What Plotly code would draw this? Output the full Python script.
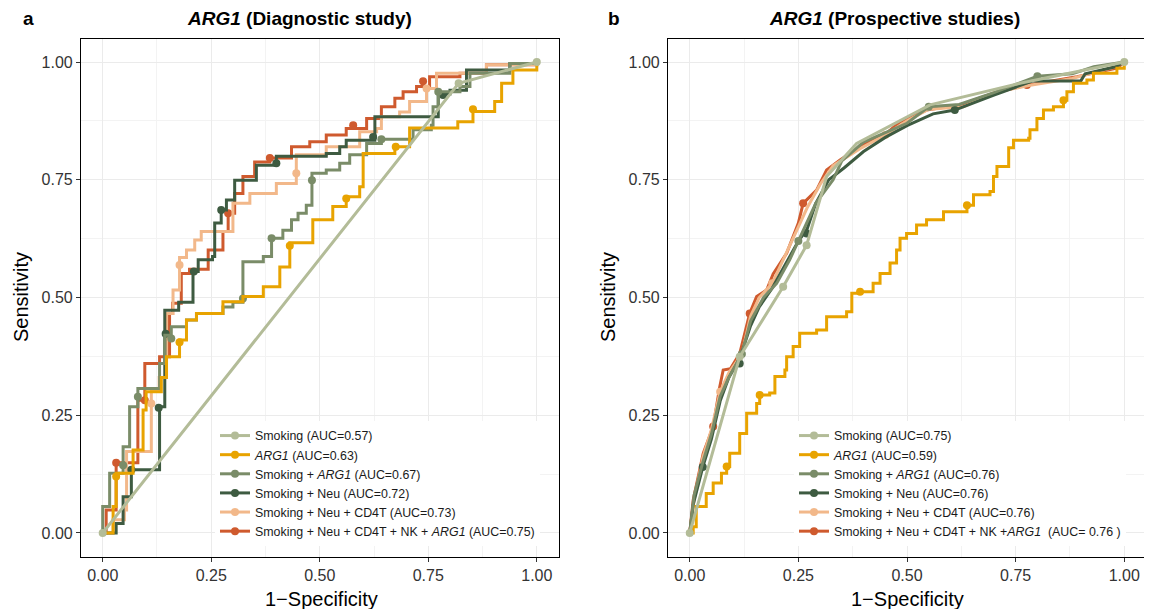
import plotly.graph_objects as go

# ---------------- Data ----------------
legend_a = ["Smoking (AUC=0.57)", "<i>ARG1</i> (AUC=0.63)", "Smoking + <i>ARG1</i> (AUC=0.67)",
            "Smoking + Neu (AUC=0.72)", "Smoking + Neu + CD4T (AUC=0.73)",
            "Smoking + Neu + CD4T + NK + <i>ARG1</i> (AUC=0.75)"]
legend_b = ["Smoking (AUC=0.75)", "<i>ARG1</i> (AUC=0.59)", "Smoking + <i>ARG1</i> (AUC=0.76)",
            "Smoking + Neu (AUC=0.76)", "Smoking + Neu + CD4T (AUC=0.76)",
            "Smoking + Neu + CD4T + NK +<i>ARG1</i>  (AUC= 0.76 )"]
colors = ["#b3bc98", "#e8a300", "#7a8c68", "#3e5b41", "#f2b88a", "#cf5a2e"]

# Panel a: diagnostic study
a_smk_x = [0, 0.82, 1.0]
a_smk_y = [0, 0.955, 1.0]
a_smk_mx = [0, 0.82, 1.0]
a_smk_my = [0, 0.955, 1.0]

a_arg_x = [0, 0.024, 0.031, 0.07, 0.093, 0.10, 0.135, 0.147, 0.177, 0.193, 0.216, 0.277, 0.323, 0.37,
           0.408, 0.431, 0.484, 0.53, 0.561, 0.592, 0.60, 0.673, 0.707, 0.818, 0.853, 0.903, 0.919, 0.945, 1.0]
a_arg_y = [0, 0.056, 0.127, 0.176, 0.261, 0.30, 0.33, 0.374, 0.41, 0.452, 0.466, 0.491, 0.502, 0.523,
           0.565, 0.616, 0.665, 0.693, 0.714, 0.735, 0.806, 0.82, 0.86, 0.873, 0.895, 0.916, 0.955, 0.983, 1.0]
a_arg_mx = [0.031, 0.177, 0.431, 0.561, 0.675, 0.853]
a_arg_my = [0.12, 0.405, 0.61, 0.71, 0.82, 0.9]

a_sa_x = [0, 0, 0.016, 0.047, 0.062, 0.081, 0.131, 0.143, 0.158, 0.193, 0.216, 0.277, 0.30, 0.323, 0.37,
          0.389, 0.415, 0.435, 0.45, 0.469, 0.482, 0.515, 0.546, 0.569, 0.608, 0.642, 0.715, 0.757, 0.761,
          0.773, 0.823, 0.846, 0.938, 1.0]
a_sa_y = [0, 0.056, 0.127, 0.183, 0.268, 0.307, 0.36, 0.42, 0.438, 0.452, 0.466, 0.48, 0.49, 0.576, 0.587,
          0.626, 0.643, 0.665, 0.679, 0.696, 0.764, 0.771, 0.785, 0.803, 0.827, 0.836, 0.856, 0.866, 0.905,
          0.937, 0.948, 0.976, 0.997, 1.0]
a_sa_mx = [0.047, 0.081, 0.158, 0.323, 0.389, 0.482, 0.642, 0.773]
a_sa_my = [0.144, 0.289, 0.413, 0.498, 0.626, 0.749, 0.836, 0.937]

a_neu_x = [0, 0.031, 0.047, 0.066, 0.131, 0.143, 0.175, 0.208, 0.22, 0.253, 0.258, 0.273, 0.285, 0.304,
           0.354, 0.40, 0.515, 0.546, 0.561, 0.627, 0.773, 0.80, 0.838, 0.938, 1.0]
a_neu_y = [0, 0.02, 0.077, 0.134, 0.268, 0.473, 0.49, 0.555, 0.58, 0.587, 0.658, 0.686, 0.707, 0.749,
           0.781, 0.80, 0.806, 0.82, 0.834, 0.884, 0.932, 0.94, 0.983, 0.997, 1.0]
a_neu_mx = [0.066, 0.129, 0.145, 0.21, 0.273, 0.40, 0.623, 0.784]
a_neu_my = [0.134, 0.266, 0.423, 0.555, 0.686, 0.785, 0.841, 0.930]

a_cd4_x = [0, 0.024, 0.05, 0.055, 0.112, 0.13, 0.147, 0.162, 0.177, 0.193, 0.212, 0.227, 0.30, 0.339,
           0.40, 0.446, 0.515, 0.592, 0.631, 0.642, 0.684, 0.707, 0.746, 0.769, 0.884, 1.0]
a_cd4_y = [0, 0.028, 0.049, 0.173, 0.304, 0.33, 0.466, 0.516, 0.585, 0.601, 0.622, 0.64, 0.70, 0.721,
           0.742, 0.803, 0.82, 0.852, 0.859, 0.884, 0.894, 0.916, 0.944, 0.976, 0.994, 1.0]
a_cd4_mx = [0.112, 0.177, 0.446, 0.746]
a_cd4_my = [0.275, 0.569, 0.764, 0.944]

a_full_x = [0, 0.008, 0.031, 0.081, 0.097, 0.131, 0.154, 0.161, 0.181, 0.20, 0.243, 0.277, 0.289, 0.304,
            0.323, 0.35, 0.385, 0.435, 0.477, 0.515, 0.561, 0.608, 0.642, 0.673, 0.692, 0.723, 0.753,
            0.823, 0.884, 1.0]
a_full_y = [0, 0.049, 0.149, 0.282, 0.36, 0.374, 0.466, 0.488, 0.551, 0.56, 0.601, 0.64, 0.679, 0.721,
            0.757, 0.788, 0.796, 0.82, 0.831, 0.845, 0.859, 0.88, 0.905, 0.923, 0.937, 0.948, 0.969,
            0.976, 0.994, 1.0]
a_full_mx = [0.031, 0.097, 0.289, 0.385, 0.577, 0.738]
a_full_my = [0.149, 0.282, 0.679, 0.796, 0.866, 0.959]

# Panel b: prospective studies
b_smk_x = [0, 0.115, 0.215, 0.269, 0.315, 0.384, 0.553, 0.76, 1.0]
b_smk_y = [0, 0.374, 0.523, 0.611, 0.757, 0.827, 0.909, 0.955, 1.0]
b_smk_mx = [0, 0.115, 0.215, 0.269, 1.0]
b_smk_my = [0, 0.374, 0.523, 0.611, 1.0]

b_arg_x = [0, 0.008, 0.015, 0.038, 0.054, 0.073, 0.085, 0.092, 0.115, 0.131, 0.154, 0.161, 0.184, 0.196,
           0.219, 0.223, 0.238, 0.253, 0.292, 0.315, 0.361, 0.373, 0.392, 0.422, 0.438, 0.461, 0.476,
           0.484, 0.499, 0.522, 0.545, 0.584, 0.638, 0.653, 0.691, 0.699, 0.707, 0.734, 0.734, 0.745,
           0.78, 0.783, 0.799, 0.814, 0.837, 0.86, 0.868, 0.883, 0.914, 0.929, 0.983, 1.0]
b_arg_y = [0, 0.013, 0.056, 0.084, 0.106, 0.127, 0.141, 0.169, 0.211, 0.254, 0.275, 0.293, 0.297, 0.332,
           0.346, 0.374, 0.396, 0.424, 0.431, 0.459, 0.47, 0.509, 0.512, 0.53, 0.551, 0.573, 0.601,
           0.626, 0.636, 0.654, 0.665, 0.682, 0.696, 0.718, 0.725, 0.757, 0.778, 0.781, 0.818, 0.834,
           0.838, 0.856, 0.88, 0.898, 0.905, 0.919, 0.937, 0.955, 0.962, 0.976, 0.987, 1.0]
b_arg_mx = [0.085, 0.161, 0.392, 0.638, 0.86]
b_arg_my = [0.141, 0.293, 0.512, 0.696, 0.919]

b_sa_x = [0, 0.01, 0.03, 0.05, 0.07, 0.09, 0.12, 0.14, 0.17, 0.2, 0.23, 0.25, 0.27, 0.29, 0.33, 0.35,
          0.40, 0.50, 0.55, 0.62, 0.70, 0.77, 0.80, 0.88, 0.93, 1.0]
b_sa_y = [0, 0.08, 0.15, 0.21, 0.29, 0.33, 0.38, 0.45, 0.5, 0.53, 0.58, 0.62, 0.66, 0.70, 0.75, 0.79,
          0.83, 0.87, 0.905, 0.91, 0.935, 0.96, 0.97, 0.975, 0.99, 1.0]
b_sa_mx = [0.12, 0.25, 0.55, 0.80]
b_sa_my = [0.38, 0.62, 0.905, 0.97]

b_neu_x = [0, 0.008, 0.03, 0.05, 0.07, 0.09, 0.115, 0.14, 0.16, 0.19, 0.22, 0.25, 0.27, 0.29, 0.32,
           0.355, 0.40, 0.45, 0.50, 0.56, 0.61, 0.70, 0.79, 0.90, 0.91, 0.98, 1.0]
b_neu_y = [0, 0.06, 0.14, 0.2, 0.28, 0.33, 0.37, 0.44, 0.48, 0.52, 0.57, 0.62, 0.645, 0.70, 0.75,
           0.775, 0.81, 0.84, 0.865, 0.89, 0.898, 0.93, 0.96, 0.96, 0.975, 0.99, 1.0]
b_neu_mx = [0.03, 0.115, 0.269, 0.61]
b_neu_my = [0.14, 0.36, 0.636, 0.898]

b_cd4_x = [0, 0.01, 0.03, 0.05, 0.07, 0.09, 0.12, 0.14, 0.16, 0.19, 0.22, 0.25, 0.27, 0.30, 0.33, 0.39,
           0.45, 0.5, 0.55, 0.63, 0.70, 0.78, 0.88, 0.98, 1.0]
b_cd4_y = [0, 0.07, 0.16, 0.22, 0.3, 0.34, 0.38, 0.46, 0.5, 0.53, 0.59, 0.65, 0.69, 0.74, 0.78, 0.815,
           0.845, 0.875, 0.9, 0.905, 0.935, 0.95, 0.965, 0.99, 1.0]
b_cd4_mx = [0.07, 0.19, 0.45]
b_cd4_my = [0.3, 0.53, 0.845]

b_full_x = [0, 0.008, 0.031, 0.054, 0.069, 0.077, 0.094, 0.115, 0.138, 0.154, 0.177, 0.192, 0.223, 0.25,
            0.261, 0.292, 0.315, 0.346, 0.392, 0.453, 0.484, 0.545, 0.622, 0.699, 0.776, 0.891, 0.983, 1.0]
b_full_y = [0, 0.07, 0.169, 0.226, 0.31, 0.346, 0.349, 0.381, 0.466, 0.502, 0.516, 0.55, 0.594, 0.658,
            0.70, 0.728, 0.771, 0.792, 0.82, 0.849, 0.873, 0.898, 0.909, 0.934, 0.951, 0.969, 0.987, 1.0]
b_full_mx = [0.054, 0.138, 0.261, 0.776]
b_full_my = [0.226, 0.466, 0.70, 0.951]

tick_vals = [0, 0.25, 0.5, 0.75, 1.0]
tick_text = ["0.00", "0.25", "0.50", "0.75", "1.00"]

# ---------------- Figure ----------------
W, H = 1152, 609
OFF = 8  # page body margin


def px(xp):
    return (xp - OFF) / W


def py(yp):
    return 1 - (yp - OFF) / H


fig = go.Figure()

# line shape per series: (panel a, panel b)
shapes_a = ["linear", "hv", "hv", "hv", "hv", "hv"]
shapes_b = ["linear", "hv", "linear", "linear", "linear", "linear"]

panels = [
    ("x", "y", "legend", legend_a, shapes_a, [
        (a_smk_x, a_smk_y, a_smk_mx, a_smk_my),
        (a_arg_x, a_arg_y, a_arg_mx, a_arg_my),
        (a_sa_x, a_sa_y, a_sa_mx, a_sa_my),
        (a_neu_x, a_neu_y, a_neu_mx, a_neu_my),
        (a_cd4_x, a_cd4_y, a_cd4_mx, a_cd4_my),
        (a_full_x, a_full_y, a_full_mx, a_full_my),
    ]),
    ("x2", "y2", "legend2", legend_b, shapes_b, [
        (b_smk_x, b_smk_y, b_smk_mx, b_smk_my),
        (b_arg_x, b_arg_y, b_arg_mx, b_arg_my),
        (b_sa_x, b_sa_y, b_sa_mx, b_sa_my),
        (b_neu_x, b_neu_y, b_neu_mx, b_neu_my),
        (b_cd4_x, b_cd4_y, b_cd4_mx, b_cd4_my),
        (b_full_x, b_full_y, b_full_mx, b_full_my),
    ]),
]

draw_order = [5, 4, 3, 2, 1, 0]
for xa, ya, leg, names, shapes, curves in panels:
    for i in draw_order:
        cx, cy, mx, my = curves[i]
        fig.add_trace(go.Scatter(x=cx, y=cy, mode="lines", line=dict(color=colors[i], width=3, shape=shapes[i]),
                                 xaxis=xa, yaxis=ya, showlegend=False, hoverinfo="skip"))
        fig.add_trace(go.Scatter(x=mx, y=my, mode="markers", marker=dict(color=colors[i], size=8),
                                 xaxis=xa, yaxis=ya, showlegend=False, hoverinfo="skip"))
    for i in range(6):
        fig.add_trace(go.Scatter(x=[None], y=[None], mode="lines+markers", name=names[i],
                                 line=dict(color=colors[i], width=3), marker=dict(color=colors[i], size=8),
                                 xaxis=xa, yaxis=ya, legend=leg, legendrank=i + 1, showlegend=True))

dom_y = [py(556.5), py(38.5)]
axis_common = dict(range=[-0.05, 1.05], tickmode="array", tickvals=tick_vals, ticktext=tick_text,
                   showline=True, linecolor="black", linewidth=1.2, mirror=True,
                   ticks="outside", ticklen=4, tickcolor="#333333",
                   tickfont=dict(family="Liberation Sans, Arial", size=16, color="#333333"),
                   showgrid=True, gridcolor="#ebebeb", gridwidth=1, zeroline=False,
                   minor=dict(tickvals=[0.125, 0.375, 0.625, 0.875], showgrid=True,
                              gridcolor="#f3f3f3", gridwidth=0.6, ticks=""))

legend_font = dict(family="Liberation Sans, Arial", size=12.4, color="#1a1a1a")
fig.update_layout(
    width=W, height=H, margin=dict(l=0, r=0, t=0, b=0),
    paper_bgcolor="white", plot_bgcolor="white",
    xaxis=dict(domain=[px(81), px(558.5)], anchor="y", **axis_common),
    yaxis=dict(domain=dom_y, anchor="x", **axis_common),
    xaxis2=dict(domain=[px(668), px(1146)], anchor="y2", **axis_common),
    yaxis2=dict(domain=dom_y, anchor="x2", **axis_common),
    legend=dict(x=px(215), y=py(421), xanchor="left", yanchor="top", bgcolor="white",
                font=legend_font, tracegroupgap=0, itemwidth=30),
    legend2=dict(x=px(794), y=py(421), xanchor="left", yanchor="top", bgcolor="white",
                 font=legend_font, tracegroupgap=0, itemwidth=30),
    font=dict(family="Liberation Sans, Arial"),
)

ann = [
    dict(text="<b>a</b>", x=px(28), y=py(19), size=19),
    dict(text="<b>b</b>", x=px(614), y=py(19), size=19),
    dict(text="<b><i>ARG1</i> (Diagnostic study)</b>", x=px(299), y=py(19), size=19),
    dict(text="<b><i>ARG1</i> (Prospective studies)</b>", x=px(894), y=py(19), size=19),
    dict(text="1−Specificity", x=px(321), y=py(599), size=20),
    dict(text="1−Specificity", x=px(907), y=py(599), size=20),
]
for a in ann:
    fig.add_annotation(text=a["text"], x=a["x"], y=a["y"], xref="paper", yref="paper",
                       showarrow=False, xanchor="center", yanchor="middle",
                       font=dict(family="Liberation Sans, Arial", size=a["size"], color="black"))
for xp in [21, 608]:
    fig.add_annotation(text="Sensitivity", x=px(xp), y=py(297), xref="paper", yref="paper",
                       showarrow=False, textangle=-90, xanchor="center", yanchor="middle",
                       font=dict(family="Liberation Sans, Arial", size=20, color="black"))

fig.write_html("out.html")
